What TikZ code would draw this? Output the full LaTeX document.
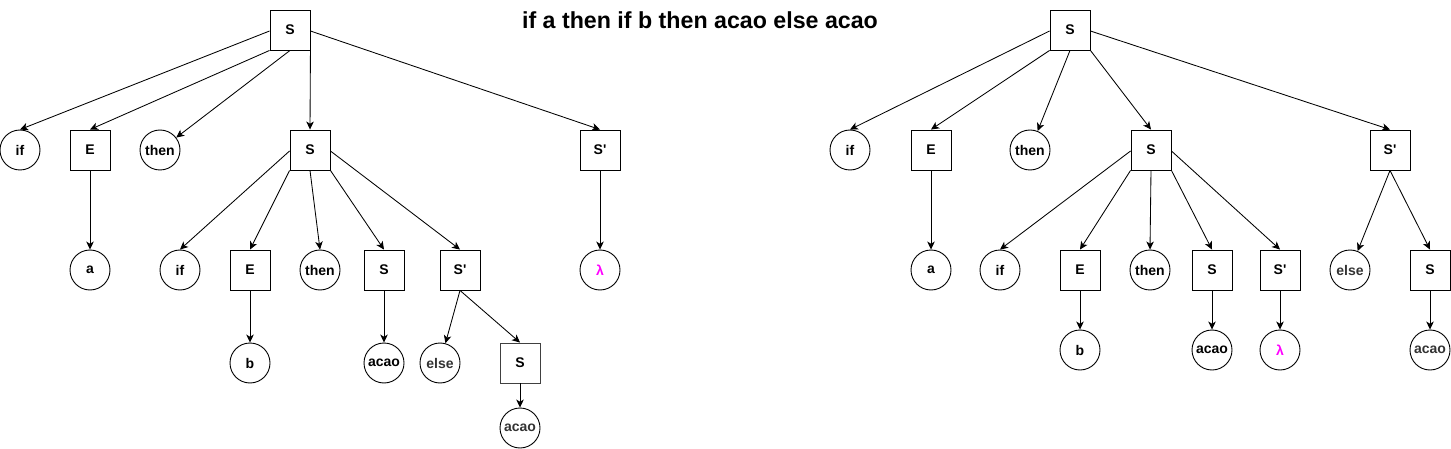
\documentclass[tikz,border=0pt]{standalone}
\usepackage{fontspec}
\setmainfont{Liberation Sans}
\usetikzlibrary{arrows.meta}
\definecolor{lamcol}{RGB}{255,0,255}
\definecolor{greytext}{RGB}{51,51,51}
\newcommand{\prm}{\textquotesingle}
\begin{document}
\begin{tikzpicture}[x=1pt,y=-1pt,
  nfont/.style={font=\bfseries\fontsize{14}{16}\selectfont},
  box/.style={draw, line width=0.9pt, minimum size=40pt, inner sep=0pt, nfont},
  leaf/.style={draw, circle, line width=0.9pt, minimum size=40pt, inner sep=0pt, nfont},
  grey/.style={text=greytext},
  lam/.style={text=lamcol},
  arr/.style={-{Stealth[length=8pt,width=7.5pt,inset=2.2pt]}, line width=0.85pt}]
\useasboundingbox (0,0) rectangle (1451,449);
\node[font=\bfseries\fontsize{23.2}{27}\selectfont] (title) at (700,20) {if a then if b then acao else acao};
% ---------- left tree ----------
\node[box] (r) at (290,30) {S};
\node[leaf] (lif) at (20,150) {if};
\node[box] (lE) at (90,150) {E};
\node[leaf] (lthen) at (160,150) {then};
\node[box] (lS) at (310,150) {S};
\node[box] (lSp) at (600,150) {S\prm};
\node[leaf] (la) at (90,270) {a};
\node[leaf] (lif2) at (180,270) {if};
\node[box] (lE2) at (250,270) {E};
\node[leaf] (lthen2) at (320,270) {then};
\node[box] (lS2) at (384,270) {S};
\node[box] (lSp2) at (460,270) {S\prm};
\node[leaf,lam] (llam) at (600,270) {λ};
\node[leaf] (lb) at (250,363) {b};
\node[leaf] (lacao) at (384,363) {acao};
\node[leaf,grey] (lelse) at (440,363) {else};
\node[box,draw=black!75] (lS3) at (520,363) {S};
\node[leaf,grey] (lacao2) at (520,428) {acao};
\draw[arr] ([yshift=-1pt]r.west) -- (lif.north);
\draw[arr] (r.south west) -- (lE.north);
\draw[arr] (r.south) -- (lthen);
\draw[arr] (r.south east) -- (lS.north);
\draw[arr] ([yshift=-1pt]r.east) -- (lSp.north);
\draw[arr] (lE) -- (la);
\draw[arr] (lSp) -- (llam);
\draw[arr] ([yshift=-1pt]lS.west) -- (lif2.north);
\draw[arr] (lS.south west) -- (lE2.north);
\draw[arr] (lS.south) -- (lthen2.north);
\draw[arr] (lS.south east) -- (lS2.north);
\draw[arr] ([yshift=-1pt]lS.east) -- (lSp2.north);
\draw[arr] (lE2) -- (lb);
\draw[arr] (lS2) -- (lacao);
\draw[arr] (lSp2.south) -- (lelse);
\draw[arr] (lSp2.south) -- (lS3.north);
\draw[arr] (lS3) -- (lacao2);
% ---------- right tree ----------
\node[box] (R) at (1070,30) {S};
\node[leaf] (rif) at (850,150) {if};
\node[box] (rE) at (931,150) {E};
\node[leaf] (rthen) at (1030,150) {then};
\node[box] (rS) at (1151,150) {S};
\node[box] (rSp) at (1390,150) {S\prm};
\node[leaf] (ra) at (931,270) {a};
\node[leaf] (rif2) at (1000,270) {if};
\node[box] (rE2) at (1080,270) {E};
\node[leaf] (rthen2) at (1150,270) {then};
\node[box] (rS2) at (1212,270) {S};
\node[box] (rSp2) at (1280,270) {S\prm};
\node[leaf,grey] (relse) at (1350,270) {else};
\node[box] (rS3) at (1430,270) {S};
\node[leaf] (rb) at (1080,350) {b};
\node[leaf] (racao) at (1212,350) {acao};
\node[leaf,lam] (rlam) at (1280,350) {λ};
\node[leaf,grey] (racao2) at (1430,350) {acao};
\draw[arr] ([yshift=-1pt]R.west) -- (rif.north);
\draw[arr] (R.south west) -- (rE.north);
\draw[arr] (R.south) -- (rthen);
\draw[arr] (R.south east) -- (rS.north);
\draw[arr] ([yshift=-1pt]R.east) -- (rSp.north);
\draw[arr] (rE) -- (ra);
\draw[arr] ([yshift=-1pt]rS.west) -- (rif2.north);
\draw[arr] (rS.south west) -- (rE2.north);
\draw[arr] (rS.south) -- (rthen2.north);
\draw[arr] (rS.south east) -- (rS2.north);
\draw[arr] ([yshift=-1pt]rS.east) -- (rSp2.north);
\draw[arr] (rSp.south) -- (relse);
\draw[arr] (rSp.south) -- (rS3.north);
\draw[arr] (rE2) -- (rb);
\draw[arr] (rS2) -- (racao);
\draw[arr] (rSp2) -- (rlam);
\draw[arr] (rS3) -- (racao2);
\end{tikzpicture}
\end{document}
